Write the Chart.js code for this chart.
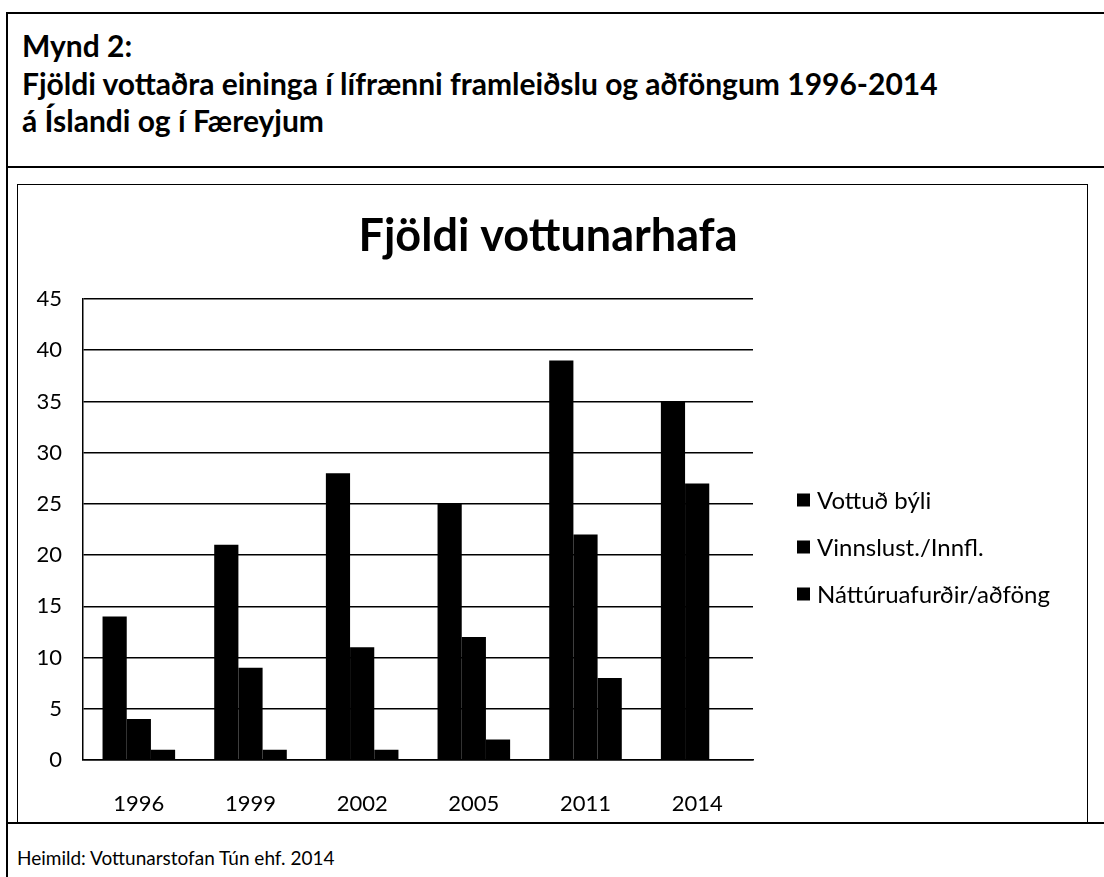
<!DOCTYPE html>
<html>
<head>
<meta charset="utf-8">
<script src="https://cdn.jsdelivr.net/npm/chart.js@4.4.1/dist/chart.umd.min.js"></script>
<style>
    html, body { margin: 0; padding: 0; background: #fff; }
    body { width: 1104px; height: 877px; position: relative; overflow: hidden; font-family: Lato, 'Open Sans', sans-serif; color: #000; }
    .line { position: absolute; background: #000; }
    .head { position: absolute; left: 22px; font-weight: bold; font-size: 30px; line-height: 36px; white-space: nowrap; }
    #chartBox { position: absolute; left: 17px; top: 184px; width: 1069px; height: 638px; border: 1px solid #000; border-bottom: none; }
    #chartCanvas { position: absolute; left: 18px; top: 185px; }
    #source { position: absolute; left: 17px; top: 846px; font-size: 19px; line-height: 23px; white-space: nowrap; }
</style>
</head>
<body>
<div class="line" style="left:7px; top:12px; width:1097px; height:2px;"></div>
<div class="line" style="left:6px; top:12px; width:2px; height:865px;"></div>
<div class="line" style="left:7px; top:166px; width:1097px; height:2px;"></div>
<div class="line" style="left:7px; top:822px; width:1097px; height:2px;"></div>

<div class="head" style="top:27px;">Mynd 2:</div>
<div class="head" style="top:65px;">Fjöldi vottaðra eininga í lífrænni framleiðslu og aðföngum 1996-2014</div>
<div class="head" style="top:102px;">á Íslandi og í Færeyjum</div>

<div id="chartBox"></div>
<canvas id="chartCanvas" width="1068" height="636"></canvas>

<div id="source">Heimild: Vottunarstofan Tún ehf. 2014</div>

<script>
// Chart data
const years = ['1996', '1999', '2002', '2005', '2011', '2014'];
const seriesNames = ['Vottuð býli', 'Vinnslust./Innfl.', 'Náttúruafurðir/aðföng'];
const vottudByli = [14, 21, 28, 25, 39, 35];
const vinnslustInnfl = [4, 9, 11, 12, 22, 27];
const natturuafurdir = [1, 1, 1, 2, 8, 0];
const yTicks = [0, 5, 10, 15, 20, 25, 30, 35, 40, 45];

const fontFamily = "Lato, 'Open Sans', sans-serif";

// Legend drawn to the right of the plot, like the Excel original
const sideLegend = {
    id: 'sideLegend',
    afterDraw(chart, args, opts) {
        const ctx = chart.ctx;
        const x = chart.chartArea.right + opts.offsetX;
        let y = opts.top;
        ctx.save();
        ctx.font = `${opts.fontSize}px ${fontFamily}`;
        ctx.textBaseline = 'middle';
        chart.data.datasets.forEach(ds => {
            ctx.fillStyle = ds.backgroundColor;
            ctx.fillRect(x, y - opts.box / 2, opts.box, opts.box);
            ctx.fillStyle = '#000';
            ctx.fillText(ds.label, x + opts.box + opts.gap, y + 1);
            y += opts.spacing;
        });
        ctx.restore();
    }
};

// Title is centred on the whole chart box, not only on the plot
const centerTitle = {
    id: 'centerTitle',
    afterLayout(chart) {
        const t = chart.titleBlock;
        if (t) {
            t.left = 0;
            t.right = chart.width - 8;
            t.width = t.right - t.left;
        }
    }
};

const ctx = document.getElementById('chartCanvas').getContext('2d');

new Chart(ctx, {
    type: 'bar',
    data: {
        labels: years,
        datasets: [
            { label: seriesNames[0], data: vottudByli, backgroundColor: '#000' },
            { label: seriesNames[1], data: vinnslustInnfl, backgroundColor: '#000' },
            { label: seriesNames[2], data: natturuafurdir, backgroundColor: '#000' }
        ]
    },
    options: {
        responsive: false,
        animation: false,
        layout: {
            padding: { left: 0, right: 333, top: 0, bottom: 0 }
        },
        datasets: {
            bar: {
                categoryPercentage: 0.65,
                barPercentage: 1.0,
                borderWidth: 0
            }
        },
        plugins: {
            legend: { display: false },
            tooltip: { enabled: false },
            title: {
                display: true,
                text: 'Fjöldi vottunarhafa',
                color: '#000',
                font: { family: fontFamily, size: 45, weight: 'bold' },
                padding: { top: 24, bottom: 36 }
            },
            sideLegend: {
                offsetX: 44,
                top: 315,
                spacing: 47,
                box: 13,
                gap: 7,
                fontSize: 24
            }
        },
        scales: {
            x: {
                grid: { display: false },
                border: { display: true, color: '#000', width: 1.5 },
                ticks: {
                    color: '#000',
                    padding: 23,
                    font: { family: fontFamily, size: 22 }
                },
                afterFit(scale) { scale.height = 61; }
            },
            y: {
                min: 0,
                max: 45,
                afterBuildTicks(scale) { scale.ticks = yTicks.map(v => ({ value: v })); },
                grid: { color: '#000', lineWidth: 1.5, drawTicks: false },
                border: { display: true, color: '#000', width: 1.5 },
                ticks: {
                    color: '#000',
                    padding: 21,
                    font: { family: fontFamily, size: 22 }
                },
                afterFit(scale) { scale.width = 65; }
            }
        }
    },
    plugins: [sideLegend, centerTitle]
});
</script>
</body>
</html>
